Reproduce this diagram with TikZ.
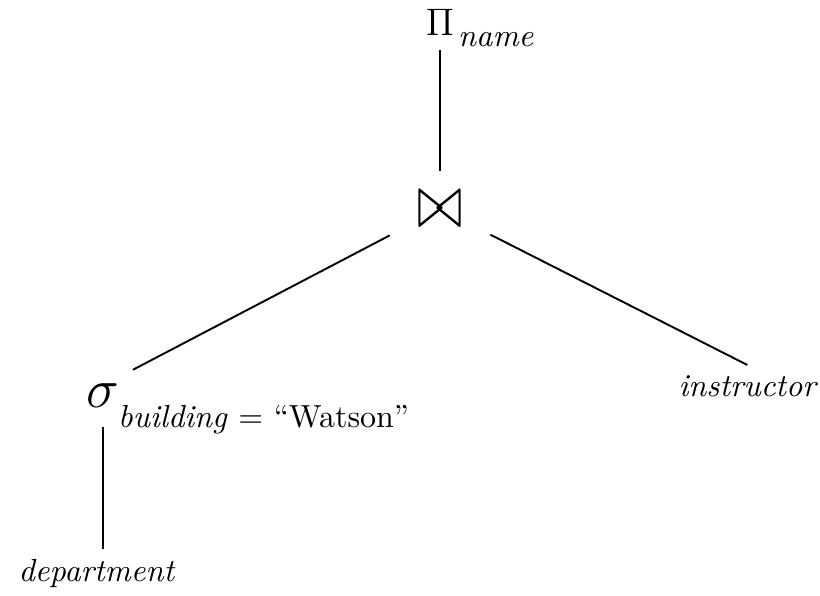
\documentclass[tikz,border=0pt]{standalone}
\usepackage{amsmath}
\usepackage{amssymb}
\usepackage{tikz}
\usetikzlibrary{calc}

\begin{document}
\begin{tikzpicture}[line width=0.6pt,
  op/.style={inner sep=4pt},
  leaf/.style={inner sep=3pt, font=\itshape},
  sub/.style={inner sep=0pt}]
\useasboundingbox (-4.84,2.30) rectangle (4.18,-4.25);

% Join in the middle
\node[op, font=\LARGE] (join) at (0,0) {\scalebox{1}[1.4]{$\bowtie$}};

% Projection on top
\node[op, font=\large] (proj) at (0,2.05) {$\Pi$};
\node[sub, anchor=base west] (projattr) at (0.19,1.79) {\textit{name}};

% Selection on the left
\node[op, font=\LARGE] (sel) at (-3.71,-2.05) {$\sigma$};
\node[sub, anchor=base west] (selcond) at (-3.55,-2.40) {\textit{building} = ``Watson''};

% Relations
\node[leaf, anchor=base] (instr) at (3.38,-2.06) {instructor};
\node[leaf, anchor=base] (dept) at (-3.78,-4.10) {department};

% Edges of the tree
\draw[shorten >=2pt] (proj) -- (join);
\draw[shorten <=5pt] (join) -- (sel.north east);
\draw[shorten <=5pt] (join) -- (instr.north);
\draw[shorten <=2pt] (sel.south) -- (sel.south |- dept.north);

\end{tikzpicture}
\end{document}
